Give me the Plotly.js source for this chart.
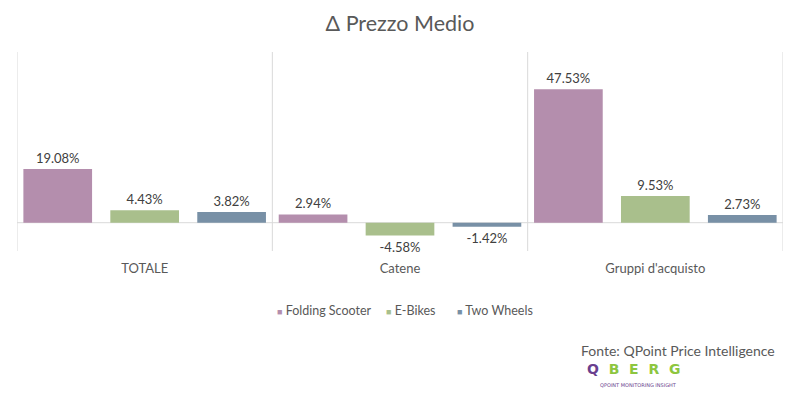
<!DOCTYPE html>
<html>
<head>
<meta charset="utf-8">
<script src="https://cdn.plot.ly/plotly-3.0.1.min.js"></script>
<style>html,body{margin:0;padding:0;background:#fff;}#chart{width:800px;height:393px;}</style>
</head>
<body>
<div id="chart"></div>
<script>
const categories = ["TOTALE", "Catene", "Gruppi d'acquisto"];
const seriesNames = ["Folding Scooter", "E-Bikes", "Two Wheels"];
const foldingScooter = [19.08, 2.94, 47.53];
const eBikes = [4.43, -4.58, 9.53];
const twoWheels = [3.82, -1.42, 2.73];
const colors = ["#B48EAD", "#A9BF8C", "#7890A6"];
const boundaries = [-0.5, 0.5, 1.5, 2.5];
const barOffsets = [-0.475, -0.1345, 0.206];
const barWidth = 0.269;
const legendX = [0.3368, 0.4791, 0.5718];

const values = [foldingScooter, eBikes, twoWheels];
const traces = values.map((v, i) => ({
  type: 'bar',
  name: seriesNames[i],
  x: categories,
  y: v,
  width: barWidth,
  offset: barOffsets[i],
  marker: {color: colors[i]},
  text: v.map(n => n.toFixed(2) + '%'),
  textposition: 'outside',
  textfont: {family: 'Lato, sans-serif', size: 13, color: '#404040'},
  cliponaxis: false,
  hoverinfo: 'none',
  showlegend: false
}));

const shapes = boundaries.map(b => ({
  type: 'line', xref: 'x', yref: 'paper', x0: b, x1: b, y0: 0, y1: 1,
  line: {color: '#D9D9D9', width: 1}
}));
shapes.push({type: 'line', xref: 'paper', yref: 'y', x0: 0, x1: 1, y0: 0, y1: 0,
  line: {color: '#D9D9D9', width: 1}, layer: 'below'});

const legendAnns = seriesNames.map((n, i) => ({
  xref: 'paper', yref: 'paper', x: legendX[i], y: -0.3015, xanchor: 'left', yanchor: 'middle',
  showarrow: false,
  text: '<span style="color:' + colors[i] + ';font-size:9px">■</span> ' + n,
  font: {family: 'Lato, sans-serif', size: 12.5, color: '#595959'}
}));

const layout = {
  width: 800, height: 393,
  margin: {l: 17, r: 17, t: 52, b: 142},
  paper_bgcolor: '#fff', plot_bgcolor: '#fff',
  title: {text: 'Δ Prezzo Medio', x: 0.5, xanchor: 'center', y: 0.94, yanchor: 'middle',
    font: {family: 'Lato, sans-serif', size: 21.5, color: '#595959'}},
  barmode: 'overlay',
  xaxis: {type: 'category', range: [-0.5, 2.5], showgrid: false, zeroline: false, showline: false,
    ticks: 'outside', ticklen: 5, tickcolor: 'rgba(0,0,0,0)',
    tickfont: {family: 'Lato, sans-serif', size: 13, color: '#595959'}},
  yaxis: {range: [-10.07, 60.75], showgrid: false, zeroline: false, showticklabels: false, showline: false},
  showlegend: false,
  shapes: shapes,
  annotations: legendAnns.concat([
    {xref: 'paper', yref: 'paper', x: 0.992, y: -0.5025, xanchor: 'right', yanchor: 'middle', showarrow: false,
     text: 'Fonte: QPoint Price Intelligence', font: {family: 'Lato, sans-serif', size: 14, color: '#595959'}},
    {xref: 'paper', yref: 'paper', x: 0.742, y: -0.593, xanchor: 'left', yanchor: 'middle', showarrow: false,
     text: '<b><span style="color:#6A3F8E">Q</span>&nbsp;&nbsp;<span style="color:#8DC63F">B&nbsp;&nbsp;E&nbsp;&nbsp;R&nbsp;&nbsp;G</span></b>',
     font: {family: 'DejaVu Sans, sans-serif', size: 14, color: '#8DC63F'}},
    {xref: 'paper', yref: 'paper', x: 0.758, y: -0.675, xanchor: 'left', yanchor: 'middle', showarrow: false,
     text: 'QPOINT MONITORING INSIGHT', font: {family: 'DejaVu Sans, sans-serif', size: 5, color: '#6A3F8E'}}
  ])
};

Plotly.newPlot('chart', traces, layout, {displayModeBar: false, staticPlot: true});
</script>
</body>
</html>
